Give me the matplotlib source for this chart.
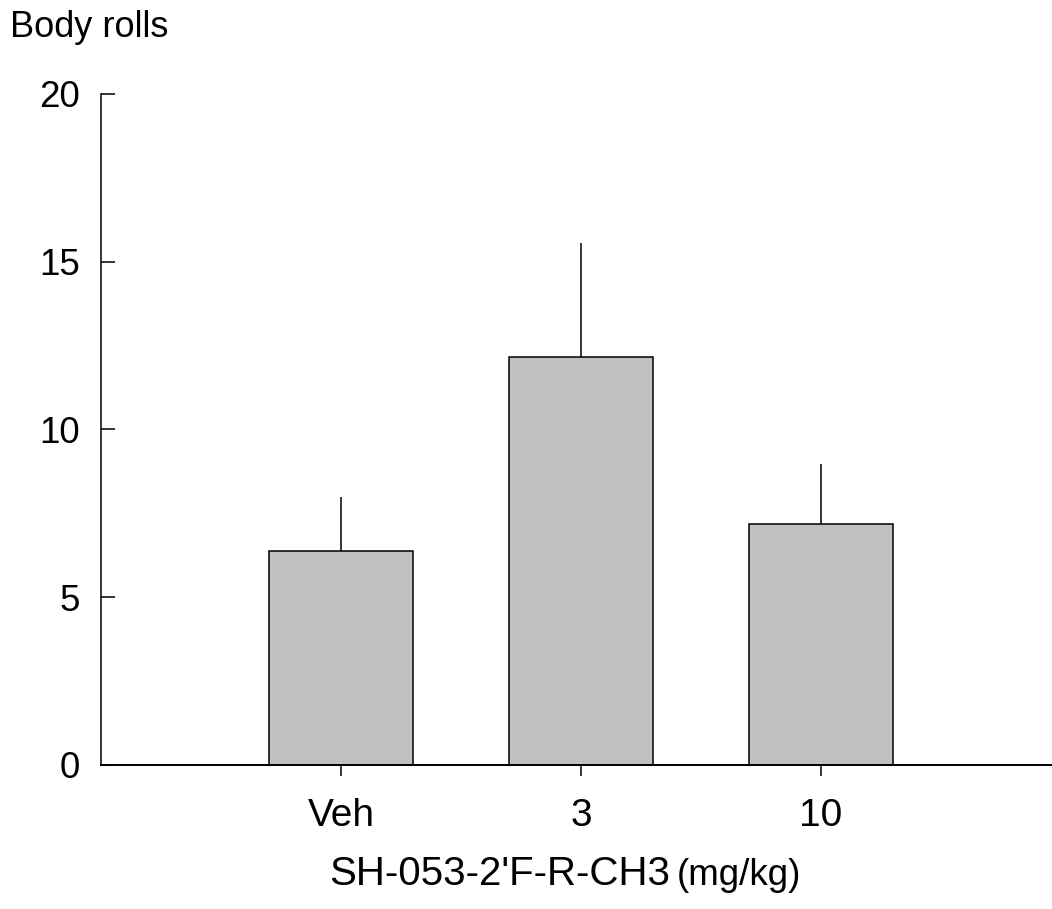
import matplotlib
matplotlib.use("Agg")
import matplotlib.pyplot as plt

categories = ["Veh", "3", "10"]
means = [6.37, 12.16, 7.19]
sem_upper = [1.61, 3.41, 1.78]
yticks = [0, 5, 10, 15, 20]

plt.rcParams['font.family'] = ['Liberation Sans', 'DejaVu Sans']

W, H = 1052, 909
fig = plt.figure(figsize=(W / 100, H / 100), dpi=100)
left_px, right_px = 101, 1061
top_px, bot_px = 94, 765
ax = fig.add_axes([left_px / W, 1 - bot_px / H, (right_px - left_px) / W, (bot_px - top_px) / H])

x = list(range(len(categories)))
ax.bar(x, means, width=0.6, color="#c0c0c0", edgecolor="black", linewidth=1.1, zorder=2)
ax.errorbar(x, means, yerr=[[0] * len(means), sem_upper], fmt="none", ecolor="black",
            elinewidth=1.1, capsize=0, zorder=1)

ax.set_xlim(-1, 3)
ax.set_ylim(0, 20)
ax.set_yticks(yticks)
ax.set_yticklabels([str(v) for v in yticks], fontsize=26.5)
ax.set_xticks(x)
ax.set_xticklabels(categories, fontsize=28)
ax.tick_params(axis="y", direction="in", length=10, width=1.1, pad=15)
ax.tick_params(axis="x", direction="out", length=8, width=1.1, pad=16)

for s in ["top", "right"]:
    ax.spines[s].set_visible(False)
ax.spines["left"].set_linewidth(1.1)
ax.spines["bottom"].set_linewidth(1.4)

fig.text(10 / W, 1 - 37 / H, "Body rolls", fontsize=26, ha="left", va="baseline")
fig.text(670 / W, 1 - 885 / H, "SH-053-2'F-R-CH3", fontsize=29, ha="right", va="baseline")
fig.text(677 / W, 1 - 885 / H, "(mg/kg)", fontsize=26.5, ha="left", va="baseline")

fig.savefig("out.png", dpi=100)
